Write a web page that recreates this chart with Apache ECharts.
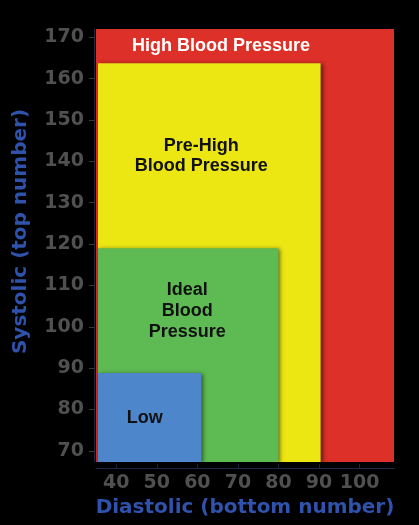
<!DOCTYPE html>
<html>
<head>
<meta charset="utf-8">
<script src="https://cdn.jsdelivr.net/npm/echarts@6/dist/echarts.min.js"></script>
<style>
  html, body { margin: 0; padding: 0; background: #000; }
  #chart { width: 419px; height: 525px; }
</style>
</head>
<body>
<div id="chart"></div>
<script>
// zones, outermost first: [diastolic from, diastolic to, systolic from, systolic to]
var zoneNames = ["High Blood Pressure", "Pre-High\nBlood Pressure", "Ideal\nBlood\nPressure", "Low"];
var zoneX0 = [35, 35.5, 35.5, 35.5];
var zoneX1 = [108.5, 90.4, 80, 61];
var zoneY0 = [67.3, 67.3, 67.3, 67.3];
var zoneY1 = [172, 163.7, 119, 88.8];
var xTicks = [40, 50, 60, 70, 80, 90, 100];
var yTicks = [70, 80, 90, 100, 110, 120, 130, 140, 150, 160, 170];

var colors = ["#dc3028", "#ece613", "#5eba52", "#4e86cc"];
var textColors = ["#ffffff", "#111111", "#111111", "#111111"];
var labelDx = [-24, -8, -1, -5]; // nudges to sit the text like the original
var labelLH = [20, 20, 21, 20];

var chart = echarts.init(document.getElementById("chart"));

var zoneData = zoneNames.map(function (n, i) {
  return [zoneX0[i], zoneX1[i], zoneY0[i], zoneY1[i], i];
});

var option = {
  backgroundColor: "#000",
  animation: false,
  grid: { left: 96, right: 25, top: 29, bottom: 63 },
  xAxis: {
    type: "value",
    min: 35,
    max: 108.5,
    name: "Diastolic (bottom number)",
    nameLocation: "middle",
    nameGap: 29,
    nameTextStyle: { color: "#2f52ad", fontFamily: "DejaVu Sans", fontWeight: "bold", fontSize: 20 },
    offset: 6,
    splitLine: { show: false },
    axisLine: { show: true, lineStyle: { color: "#1f2a48", width: 1 } },
    axisTick: { show: true, customValues: xTicks, length: 4, inside: true, lineStyle: { color: "#1f2a48" } },
    axisLabel: {
      customValues: xTicks,
      margin: 6,
      color: "#505050",
      fontFamily: "DejaVu Sans",
      fontWeight: "bold",
      fontSize: 19
    }
  },
  yAxis: {
    type: "value",
    min: 67.3,
    max: 172,
    name: "Systolic (top number)",
    nameLocation: "middle",
    nameGap: 63,
    nameTextStyle: {
      color: "#2f52ad", fontFamily: "DejaVu Sans", fontWeight: "bold", fontSize: 20,
      padding: [0, 0, 0, 28]
    },
    offset: 2,
    splitLine: { show: false },
    axisLine: { show: true, lineStyle: { color: "#1f2a48", width: 1 } },
    axisTick: { show: true, customValues: yTicks, length: 5, lineStyle: { color: "#3a3a3a" } },
    axisLabel: {
      customValues: yTicks,
      margin: 10,
      color: "#505050",
      fontFamily: "DejaVu Sans",
      fontWeight: "bold",
      fontSize: 19
    }
  },
  series: [
    {
      type: "custom",
      data: zoneData,
      clip: false,
      renderItem: function (params, api) {
        var i = api.value(4);
        var p0 = api.coord([api.value(0), api.value(3)]);
        var p1 = api.coord([api.value(1), api.value(2)]);
        // text sits in the part of the zone left uncovered by the next inner zone
        var innerTop = i < zoneNames.length - 1 ? api.coord([0, zoneY1[i + 1]])[1] : p1[1];
        return {
          type: "group",
          children: [
            {
              type: "rect",
              shape: { x: p0[0], y: p0[1], width: p1[0] - p0[0], height: p1[1] - p0[1] },
              style: {
                fill: colors[i],
                shadowBlur: 4,
                shadowOffsetX: 2,
                shadowOffsetY: 1,
                shadowColor: "rgba(0,0,0,0.55)"
              }
            },
            {
              type: "text",
              x: (p0[0] + p1[0]) / 2 + labelDx[i],
              y: (p0[1] + innerTop) / 2,
              style: {
                text: zoneNames[i],
                fill: textColors[i],
                font: "bold 18px 'Liberation Sans', Arial, sans-serif",
                lineHeight: labelLH[i],
                align: "center",
                verticalAlign: "middle"
              }
            }
          ]
        };
      }
    }
  ]
};

chart.setOption(option);
</script>
</body>
</html>
